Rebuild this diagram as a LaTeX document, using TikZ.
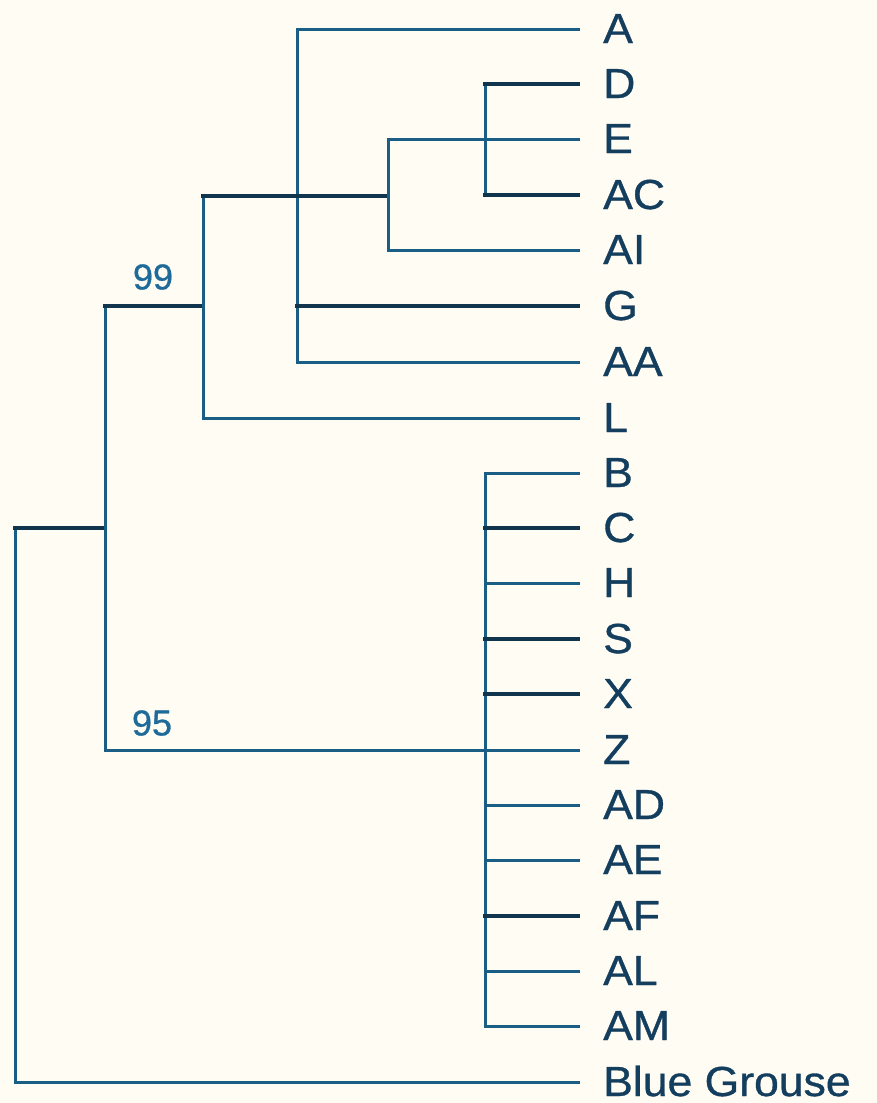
\documentclass[tikz,border=0pt]{standalone}
\usepackage{fontspec}
\setmainfont{Liberation Sans}
\newfontfamily\leaffont[FakeBold=0.8]{Liberation Sans}
\definecolor{bgc}{HTML}{FFFCF4}
\definecolor{br}{HTML}{1B5E85}
\definecolor{brd}{HTML}{10354C}
\definecolor{txt}{HTML}{143E5E}
\definecolor{sup}{HTML}{1E6A99}
\tikzset{
  branch/.style={draw=br,line width=3pt,line cap=rect},
  branchd/.style={draw=brd,line width=3.2pt,line cap=rect},
  leaf/.style={anchor=base west,inner sep=0pt,text=txt,xscale=1.06,font=\leaffont\fontsize{42}{48}\selectfont},
  support/.style={anchor=center,inner sep=0pt,text=sup,font=\leaffont\fontsize{36}{40}\selectfont}
}
\begin{document}
\begin{tikzpicture}[x=1pt,y=-1pt]
\fill[bgc] (0,0) rectangle (877,1103);
\useasboundingbox (0,0) rectangle (877,1103);
% leaves
\def\tipx{578}
\def\labx{603}
\foreach \n/\t/\y in {A/A/29,D/D/84,E/E/139,AC/AC/195,AI/AI/250,G/G/306,AA/AA/362,L/L/418,B/B/473,C/C/528,H/H/583,S/S/639,X/X/694,Z/Z/750,AD/AD/805,AE/AE/860,AF/AF/916,AL/AL/971,AM/AM/1026,BG/Blue Grouse/1082}{
  \coordinate (t\n) at (\tipx,\y);
  \node[leaf] (l\n) at (\labx,\y+14) {\t};
}
% internal nodes
\coordinate (root) at (15,528);
\coordinate (n1) at (105,528);
\coordinate (n99) at (203,306);
\coordinate (n2) at (297,196);
\coordinate (n3) at (388,139);
\coordinate (n4) at (485,139);
\coordinate (n95) at (485,750);
% root
\draw[branch] (root |- tBG) -- (root) ;
\draw[branchd] (root) -- (n1);
\draw[branch] (root |- tBG) -- (tBG);
% n1
\draw[branch] (n1 |- n99) -- (n1 |- tZ);
\draw[branchd] (n1 |- n99) -- (n99);
\draw[branch] (n1 |- tZ) -- (tZ);
% n99
\draw[branch] (n99 |- n2) -- (n99 |- tL);
\draw[branchd] (n99 |- n2) -- (n2);
\draw[branch] (n99 |- tL) -- (tL);
% n2
\draw[branch] (n2 |- tA) -- (n2 |- tAA);
\draw[branch] (n2 |- tA) -- (tA);
\draw[branchd] (n2) -- (n3 |- n2);
\draw[branchd] (n2 |- tG) -- (tG);
\draw[branch] (n2 |- tAA) -- (tAA);
% n3
\draw[branch] (n3) -- (n3 |- tAI);
\draw[branch] (n3) -- (tE);
\draw[branch] (n3 |- tAI) -- (tAI);
% n4
\draw[branch] (n4 |- tD) -- (n4 |- tAC);
\draw[branchd] (n4 |- tD) -- (tD);
\draw[branchd] (n4 |- tAC) -- (tAC);
% n95 polytomy
\draw[branch] (n95 |- tB) -- (n95 |- tAM);
\foreach \n in {B,H,AD,AE,AL,AM}{\draw[branch] (n95 |- t\n) -- (t\n);}
\foreach \n in {C,S,X,AF}{\draw[branchd] (n95 |- t\n) -- (t\n);}
% support values
\node[support] (s99) at (153,277) {99};
\node[support] (s95) at (152,723) {95};
\end{tikzpicture}
\end{document}
